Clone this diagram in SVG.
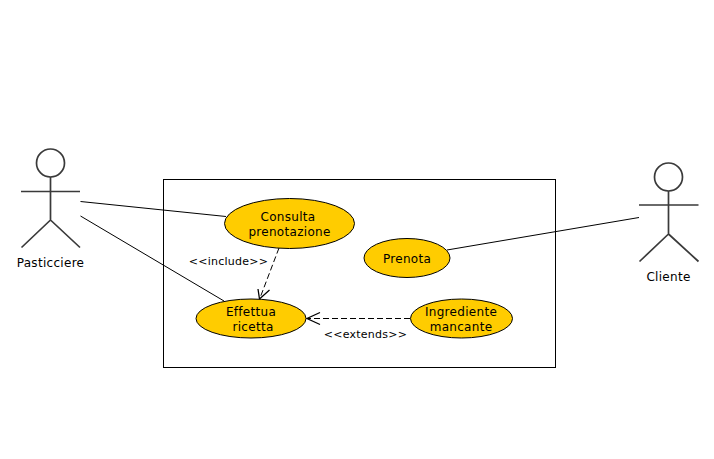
<svg xmlns="http://www.w3.org/2000/svg" width="714" height="459" viewBox="0 0 714 459">
<style>
text{font-family:"DejaVu Sans",sans-serif;font-size:12px;letter-spacing:.3px;fill:#000;text-anchor:middle}
text.s{font-size:11px;letter-spacing:.25px}
.uc{fill:#ffcc00;stroke:#000;stroke-width:1}
.a{fill:none;stroke:#3a3a3a;stroke-width:1.7}
.c{fill:none;stroke:#000;stroke-width:1}
.d{stroke-dasharray:6 3}
.h{stroke-width:1.3}
</style>
<rect width="714" height="459" fill="#fff"/>
<rect id="system" x="163.500" y="179.500" width="392" height="188" fill="#fff" stroke="#000"/>
<g id="connectors">
<path class="c" d="M80.500 201.500L226 216.500"/>
<path class="c" d="M80.500 216L224 301"/>
<path class="c" d="M639 217.500L447 250"/>
<path class="c d" d="M279 248L260 298"/>
<path class="c h" d="M258 289L259.500 299L269.500 290"/>
<path class="c d" d="M410 318.500L308 318.500"/>
<path class="c h" d="M320 312.500L307 318.500L320 324.500"/>
</g>
<g id="pasticciere"><circle class="a" cx="50.500" cy="163" r="14"/><path class="a" d="M50.500 177V220M21 191.500H80M50.500 220L21.500 247.500M50.500 220L80 247.500"/><text x="50.500" y="267">Pasticciere</text></g>
<g id="cliente"><circle class="a" cx="668.500" cy="177" r="14"/><path class="a" d="M668.500 191V234M639 205H698.500M668.500 234L639.500 261.500M668.500 234L698.500 261.500"/><text x="668.500" y="281">Cliente</text></g>
<g id="consulta"><ellipse class="uc" cx="289.500" cy="223.500" rx="65" ry="25"/><text x="288" y="221">Consulta</text><text x="289.500" y="236">prenotazione</text></g>
<g id="prenota"><ellipse class="uc" cx="407" cy="258" rx="43" ry="19.500"/><text x="407" y="263">Prenota</text></g>
<g id="effettua"><ellipse class="uc" cx="251" cy="318.500" rx="55" ry="19.500"/><text x="251" y="316">Effettua</text><text x="253" y="331">ricetta</text></g>
<g id="ingrediente"><ellipse class="uc" cx="461.500" cy="318.500" rx="51" ry="19.500"/><text x="461" y="316">Ingrediente</text><text x="461" y="331">mancante</text></g>
<text class="s" x="228.500" y="265">&lt;&lt;include&gt;&gt;</text>
<text class="s" x="365.500" y="338">&lt;&lt;extends&gt;&gt;</text>
</svg>
